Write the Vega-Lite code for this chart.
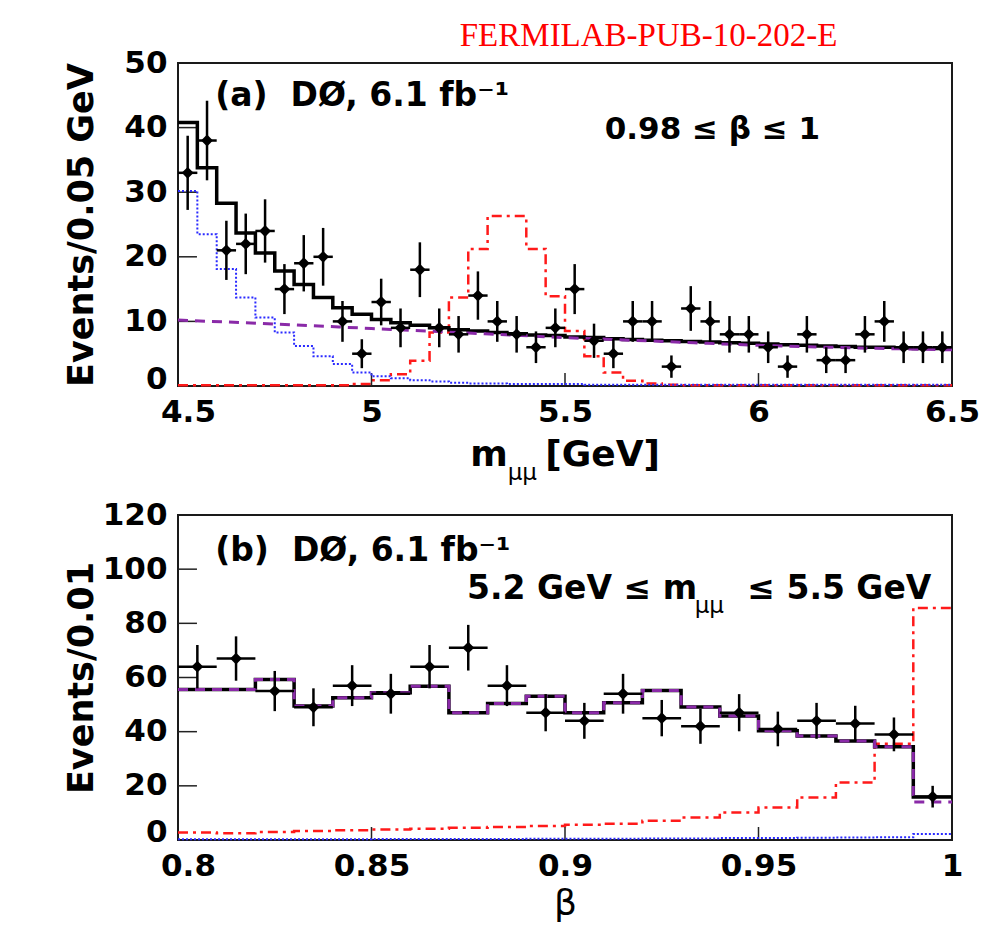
{
  "$schema": "https://vega.github.io/schema/vega-lite/v6.json",
  "background": "white",
  "padding": {"left": 62, "top": 19, "right": 5, "bottom": 5},
  "spacing": 129,
  "bounds": "flush",
  "config": {
    "view": {"stroke": "#1a1a1a", "strokeWidth": 2},
    "axis": {"grid": false, "domain": false, "ticks": false, "labelFont": "DejaVu Sans", "labelFontWeight": "bold", "labelFontSize": 31, "labelColor": "#000000", "titleFont": "DejaVu Sans", "titleFontWeight": "bold", "titleFontSize": 35, "titleColor": "#000000", "labelFlush": false, "labelOverlap": false},
    "text": {"font": "DejaVu Sans"}
  },
  "datasets": {
    "one": [{"k": 1}],
    "ta_y": [{"v": 10}, {"v": 20}, {"v": 30}, {"v": 40}],
    "ta_x": [{"v": 5}, {"v": 5.5}, {"v": 6}],
    "tb_y": [{"v": 20}, {"v": 40}, {"v": 60}, {"v": 80}, {"v": 100}],
    "tb_x": [{"v": 0.85}, {"v": 0.9}, {"v": 0.95}],
    "ha": [
      {"m": 4.50, "tot": 40.8, "pk": 30.2, "sig": 0.1},
      {"m": 4.55, "tot": 33.8, "pk": 23.5, "sig": 0.1},
      {"m": 4.60, "tot": 28.3, "pk": 18.1, "sig": 0.1},
      {"m": 4.65, "tot": 23.7, "pk": 13.7, "sig": 0.1},
      {"m": 4.70, "tot": 20.6, "pk": 10.6, "sig": 0.1},
      {"m": 4.75, "tot": 17.8, "pk": 8.3, "sig": 0.1},
      {"m": 4.80, "tot": 15.7, "pk": 6.2, "sig": 0.1},
      {"m": 4.85, "tot": 13.7, "pk": 4.6, "sig": 0.1},
      {"m": 4.90, "tot": 12.1, "pk": 3.4, "sig": 0.1},
      {"m": 4.95, "tot": 11.1, "pk": 2.1, "sig": 0.3},
      {"m": 5.00, "tot": 10.3, "pk": 1.5, "sig": 0.9},
      {"m": 5.05, "tot": 9.8, "pk": 1.2, "sig": 1.8},
      {"m": 5.10, "tot": 9.4, "pk": 0.9, "sig": 3.9},
      {"m": 5.15, "tot": 9.0, "pk": 0.7, "sig": 8.3},
      {"m": 5.20, "tot": 8.7, "pk": 0.5, "sig": 13.7},
      {"m": 5.25, "tot": 8.5, "pk": 0.4, "sig": 21.2},
      {"m": 5.30, "tot": 8.3, "pk": 0.4, "sig": 26.3},
      {"m": 5.35, "tot": 8.1, "pk": 0.3, "sig": 26.3},
      {"m": 5.40, "tot": 7.9, "pk": 0.3, "sig": 21.2},
      {"m": 5.45, "tot": 7.8, "pk": 0.3, "sig": 13.9},
      {"m": 5.50, "tot": 7.6, "pk": 0.3, "sig": 8.5},
      {"m": 5.55, "tot": 7.5, "pk": 0.2, "sig": 4.6},
      {"m": 5.60, "tot": 7.3, "pk": 0.2, "sig": 2.1},
      {"m": 5.65, "tot": 7.2, "pk": 0.2, "sig": 0.8},
      {"m": 5.70, "tot": 7.1, "pk": 0.2, "sig": 0.4},
      {"m": 5.75, "tot": 7.0, "pk": 0.2, "sig": 0.2},
      {"m": 5.80, "tot": 6.9, "pk": 0.2, "sig": 0.1},
      {"m": 5.85, "tot": 6.8, "pk": 0.2, "sig": 0.1},
      {"m": 5.90, "tot": 6.7, "pk": 0.2, "sig": 0.1},
      {"m": 5.95, "tot": 6.6, "pk": 0.2, "sig": 0.1},
      {"m": 6.00, "tot": 6.5, "pk": 0.2, "sig": 0.1},
      {"m": 6.05, "tot": 6.4, "pk": 0.2, "sig": 0.1},
      {"m": 6.10, "tot": 6.3, "pk": 0.2, "sig": 0.1},
      {"m": 6.15, "tot": 6.2, "pk": 0.2, "sig": 0.1},
      {"m": 6.20, "tot": 6.1, "pk": 0.2, "sig": 0.1},
      {"m": 6.25, "tot": 6.0, "pk": 0.2, "sig": 0.1},
      {"m": 6.30, "tot": 6.0, "pk": 0.2, "sig": 0.1},
      {"m": 6.35, "tot": 5.9, "pk": 0.2, "sig": 0.1},
      {"m": 6.40, "tot": 5.8, "pk": 0.2, "sig": 0.1},
      {"m": 6.45, "tot": 5.8, "pk": 0.2, "sig": 0.1},
      {"m": 6.50, "tot": 5.8, "pk": 0.2, "sig": 0.1}
    ],
    "hacomb": [
      {"m": 4.50, "v": 10.2}, {"m": 4.75, "v": 9.6}, {"m": 5.00, "v": 8.9},
      {"m": 5.25, "v": 8.2}, {"m": 5.50, "v": 7.5}, {"m": 5.75, "v": 6.9},
      {"m": 6.00, "v": 6.3}, {"m": 6.25, "v": 5.9}, {"m": 6.50, "v": 5.6}
    ],
    "pa": [
      {"m": 4.525, "m0": 4.50, "m1": 4.55, "n": 33, "lo": 27.26, "hi": 38.74},
      {"m": 4.575, "m0": 4.55, "m1": 4.60, "n": 38, "lo": 31.84, "hi": 44.16},
      {"m": 4.625, "m0": 4.60, "m1": 4.65, "n": 21, "lo": 16.42, "hi": 25.58},
      {"m": 4.675, "m0": 4.65, "m1": 4.70, "n": 22, "lo": 17.31, "hi": 26.69},
      {"m": 4.725, "m0": 4.70, "m1": 4.75, "n": 24, "lo": 19.10, "hi": 28.90},
      {"m": 4.775, "m0": 4.75, "m1": 4.80, "n": 15, "lo": 11.13, "hi": 18.87},
      {"m": 4.825, "m0": 4.80, "m1": 4.85, "n": 19, "lo": 14.64, "hi": 23.36},
      {"m": 4.875, "m0": 4.85, "m1": 4.90, "n": 20, "lo": 15.53, "hi": 24.47},
      {"m": 4.925, "m0": 4.90, "m1": 4.95, "n": 10, "lo": 6.84, "hi": 13.16},
      {"m": 4.975, "m0": 4.95, "m1": 5.00, "n": 5, "lo": 2.76, "hi": 7.24},
      {"m": 5.025, "m0": 5.00, "m1": 5.05, "n": 13, "lo": 9.39, "hi": 16.61},
      {"m": 5.075, "m0": 5.05, "m1": 5.10, "n": 9, "lo": 6.00, "hi": 12.00},
      {"m": 5.125, "m0": 5.10, "m1": 5.15, "n": 18, "lo": 13.76, "hi": 22.24},
      {"m": 5.175, "m0": 5.15, "m1": 5.20, "n": 9, "lo": 6.00, "hi": 12.00},
      {"m": 5.225, "m0": 5.20, "m1": 5.25, "n": 8, "lo": 5.17, "hi": 10.83},
      {"m": 5.275, "m0": 5.25, "m1": 5.30, "n": 14, "lo": 10.26, "hi": 17.74},
      {"m": 5.325, "m0": 5.30, "m1": 5.35, "n": 10, "lo": 6.84, "hi": 13.16},
      {"m": 5.375, "m0": 5.35, "m1": 5.40, "n": 8, "lo": 5.17, "hi": 10.83},
      {"m": 5.425, "m0": 5.40, "m1": 5.45, "n": 6, "lo": 3.55, "hi": 8.45},
      {"m": 5.475, "m0": 5.45, "m1": 5.50, "n": 9, "lo": 6.00, "hi": 12.00},
      {"m": 5.525, "m0": 5.50, "m1": 5.55, "n": 15, "lo": 11.13, "hi": 18.87},
      {"m": 5.575, "m0": 5.55, "m1": 5.60, "n": 7, "lo": 4.35, "hi": 9.65},
      {"m": 5.625, "m0": 5.60, "m1": 5.65, "n": 5, "lo": 2.76, "hi": 7.24},
      {"m": 5.675, "m0": 5.65, "m1": 5.70, "n": 10, "lo": 6.84, "hi": 13.16},
      {"m": 5.725, "m0": 5.70, "m1": 5.75, "n": 10, "lo": 6.84, "hi": 13.16},
      {"m": 5.775, "m0": 5.75, "m1": 5.80, "n": 3, "lo": 1.27, "hi": 4.73},
      {"m": 5.825, "m0": 5.80, "m1": 5.85, "n": 12, "lo": 8.54, "hi": 15.46},
      {"m": 5.875, "m0": 5.85, "m1": 5.90, "n": 10, "lo": 6.84, "hi": 13.16},
      {"m": 5.925, "m0": 5.90, "m1": 5.95, "n": 8, "lo": 5.17, "hi": 10.83},
      {"m": 5.975, "m0": 5.95, "m1": 6.00, "n": 8, "lo": 5.17, "hi": 10.83},
      {"m": 6.025, "m0": 6.00, "m1": 6.05, "n": 6, "lo": 3.55, "hi": 8.45},
      {"m": 6.075, "m0": 6.05, "m1": 6.10, "n": 3, "lo": 1.27, "hi": 4.73},
      {"m": 6.125, "m0": 6.10, "m1": 6.15, "n": 8, "lo": 5.17, "hi": 10.83},
      {"m": 6.175, "m0": 6.15, "m1": 6.20, "n": 4, "lo": 2.00, "hi": 6.00},
      {"m": 6.225, "m0": 6.20, "m1": 6.25, "n": 4, "lo": 2.00, "hi": 6.00},
      {"m": 6.275, "m0": 6.25, "m1": 6.30, "n": 8, "lo": 5.17, "hi": 10.83},
      {"m": 6.325, "m0": 6.30, "m1": 6.35, "n": 10, "lo": 6.84, "hi": 13.16},
      {"m": 6.375, "m0": 6.35, "m1": 6.40, "n": 6, "lo": 3.55, "hi": 8.45},
      {"m": 6.425, "m0": 6.40, "m1": 6.45, "n": 6, "lo": 3.55, "hi": 8.45},
      {"m": 6.475, "m0": 6.45, "m1": 6.50, "n": 6, "lo": 3.55, "hi": 8.45}
    ],
    "hb": [
      {"b": 0.80, "tot": 55.6, "fit": 55.6, "sig": 2.8, "pk": 0.3},
      {"b": 0.81, "tot": 55.6, "fit": 55.6, "sig": 2.5, "pk": 0.3},
      {"b": 0.82, "tot": 59.3, "fit": 59.3, "sig": 3.0, "pk": 0.3},
      {"b": 0.83, "tot": 49.5, "fit": 49.5, "sig": 3.3, "pk": 0.3},
      {"b": 0.84, "tot": 52.5, "fit": 52.5, "sig": 3.6, "pk": 0.3},
      {"b": 0.85, "tot": 54.4, "fit": 54.4, "sig": 3.9, "pk": 0.4},
      {"b": 0.86, "tot": 56.8, "fit": 56.8, "sig": 4.2, "pk": 0.4},
      {"b": 0.87, "tot": 47.0, "fit": 47.0, "sig": 4.5, "pk": 0.4},
      {"b": 0.88, "tot": 50.4, "fit": 50.4, "sig": 4.8, "pk": 0.4},
      {"b": 0.89, "tot": 53.1, "fit": 53.1, "sig": 5.2, "pk": 0.5},
      {"b": 0.90, "tot": 47.0, "fit": 47.0, "sig": 5.6, "pk": 0.5},
      {"b": 0.91, "tot": 50.7, "fit": 50.7, "sig": 6.0, "pk": 0.5},
      {"b": 0.92, "tot": 55.2, "fit": 55.2, "sig": 7.1, "pk": 0.6},
      {"b": 0.93, "tot": 49.1, "fit": 49.1, "sig": 8.3, "pk": 0.6},
      {"b": 0.94, "tot": 45.8, "fit": 45.8, "sig": 10.2, "pk": 0.7},
      {"b": 0.95, "tot": 40.3, "fit": 40.3, "sig": 12.0, "pk": 0.7},
      {"b": 0.96, "tot": 38.4, "fit": 38.4, "sig": 15.7, "pk": 0.8},
      {"b": 0.97, "tot": 36.6, "fit": 36.6, "sig": 21.2, "pk": 0.9},
      {"b": 0.98, "tot": 34.4, "fit": 34.4, "sig": 35.5, "pk": 1.0},
      {"b": 0.99, "tot": 15.9, "fit": 14.0, "sig": 85.7, "pk": 2.2},
      {"b": 1.00, "tot": 15.9, "fit": 14.0, "sig": 85.7, "pk": 2.2}
    ],
    "pb": [
      {"b": 0.805, "b0": 0.80, "b1": 0.81, "n": 64, "lo": 56.00, "hi": 72.00},
      {"b": 0.815, "b0": 0.81, "b1": 0.82, "n": 67, "lo": 58.81, "hi": 75.19},
      {"b": 0.825, "b0": 0.82, "b1": 0.83, "n": 55, "lo": 47.58, "hi": 62.42},
      {"b": 0.835, "b0": 0.83, "b1": 0.84, "n": 49, "lo": 42.00, "hi": 56.00},
      {"b": 0.845, "b0": 0.84, "b1": 0.85, "n": 57, "lo": 49.45, "hi": 64.55},
      {"b": 0.855, "b0": 0.85, "b1": 0.86, "n": 54, "lo": 46.65, "hi": 61.35},
      {"b": 0.865, "b0": 0.86, "b1": 0.87, "n": 64, "lo": 56.00, "hi": 72.00},
      {"b": 0.875, "b0": 0.87, "b1": 0.88, "n": 71, "lo": 62.57, "hi": 79.43},
      {"b": 0.885, "b0": 0.88, "b1": 0.89, "n": 57, "lo": 49.45, "hi": 64.55},
      {"b": 0.895, "b0": 0.89, "b1": 0.90, "n": 47, "lo": 40.14, "hi": 53.86},
      {"b": 0.905, "b0": 0.90, "b1": 0.91, "n": 44, "lo": 37.37, "hi": 50.63},
      {"b": 0.915, "b0": 0.91, "b1": 0.92, "n": 54, "lo": 46.65, "hi": 61.35},
      {"b": 0.925, "b0": 0.92, "b1": 0.93, "n": 45, "lo": 38.29, "hi": 51.71},
      {"b": 0.935, "b0": 0.93, "b1": 0.94, "n": 42, "lo": 35.52, "hi": 48.48},
      {"b": 0.945, "b0": 0.94, "b1": 0.95, "n": 47, "lo": 40.14, "hi": 53.86},
      {"b": 0.955, "b0": 0.95, "b1": 0.96, "n": 41, "lo": 34.60, "hi": 47.40},
      {"b": 0.965, "b0": 0.96, "b1": 0.97, "n": 44, "lo": 37.37, "hi": 50.63},
      {"b": 0.975, "b0": 0.97, "b1": 0.98, "n": 43, "lo": 36.44, "hi": 49.56},
      {"b": 0.985, "b0": 0.98, "b1": 0.99, "n": 39, "lo": 32.76, "hi": 45.24},
      {"b": 0.995, "b0": 0.99, "b1": 1.00, "n": 16, "lo": 12.00, "hi": 20.00}
    ]
  },
  "vconcat": [
    {
      "width": 774,
      "height": 323,
      "layer": [
        {
          "data": {"name": "ha"},
          "mark": {"type": "line", "interpolate": "step-after", "color": "#ff1a1a", "strokeWidth": 2.5, "strokeDash": [10, 5, 3, 5]},
          "encoding": {
            "x": {"field": "m", "type": "quantitative", "title": null, "scale": {"domain": [4.5, 6.5], "nice": false, "zero": false},
                  "axis": {"values": [4.5, 5, 5.5, 6, 6.5], "format": "~g", "labelPadding": 11,
                           "labelOffset": {"condition": {"test": "datum.value < 4.6", "value": 10}, "value": 0}}},
            "y": {"field": "sig", "type": "quantitative", "title": "Events/0.05 GeV", "scale": {"domain": [0, 50], "nice": false},
                  "axis": {"values": [0, 10, 20, 30, 40, 50], "labelPadding": 11, "titleX": -86, "titleBaseline": "alphabetic",
                           "labelOffset": {"condition": {"test": "datum.value === 0", "value": -7}, "value": 0}}}
          }
        },
        {
          "data": {"name": "ta_y"},
          "mark": {"type": "rule", "color": "#222222", "strokeWidth": 1.5},
          "encoding": {
            "y": {"field": "v", "type": "quantitative", "title": "Events/0.05 GeV"},
            "x": {"datum": 4.5, "type": "quantitative"},
            "x2": {"datum": 4.549}
          }
        },
        {
          "data": {"name": "ta_x"},
          "mark": {"type": "rule", "color": "#222222", "strokeWidth": 1.5},
          "encoding": {
            "x": {"field": "v", "type": "quantitative", "title": null},
            "y": {"datum": 0, "type": "quantitative"},
            "y2": {"datum": 2.0}
          }
        },
        {
          "data": {"name": "ha"},
          "mark": {"type": "line", "interpolate": "step-after", "color": "#2a2aff", "strokeWidth": 2, "strokeDash": [2, 2]},
          "encoding": {
            "x": {"field": "m", "type": "quantitative", "title": null},
            "y": {"field": "pk", "type": "quantitative", "title": "Events/0.05 GeV"}
          }
        },
        {
          "data": {"name": "ha"},
          "mark": {"type": "line", "interpolate": "step-after", "color": "#000000", "strokeWidth": 3.5},
          "encoding": {
            "x": {"field": "m", "type": "quantitative", "title": null},
            "y": {"field": "tot", "type": "quantitative", "title": "Events/0.05 GeV"}
          }
        },
        {
          "data": {"name": "hacomb"},
          "mark": {"type": "line", "interpolate": "monotone", "color": "#8a2aa8", "strokeWidth": 3, "strokeDash": [10, 7]},
          "encoding": {
            "x": {"field": "m", "type": "quantitative", "title": null},
            "y": {"field": "v", "type": "quantitative", "title": "Events/0.05 GeV"}
          }
        },
        {
          "data": {"name": "pa"},
          "mark": {"type": "rule", "color": "#000000", "strokeWidth": 2.5},
          "encoding": {
            "x": {"field": "m", "type": "quantitative", "title": null},
            "y": {"field": "lo", "type": "quantitative", "title": "Events/0.05 GeV"},
            "y2": {"field": "hi"}
          }
        },
        {
          "data": {"name": "pa"},
          "mark": {"type": "rule", "color": "#000000", "strokeWidth": 2.5},
          "encoding": {
            "x": {"field": "m0", "type": "quantitative", "title": null},
            "x2": {"field": "m1"},
            "y": {"field": "n", "type": "quantitative", "title": "Events/0.05 GeV"}
          }
        },
        {
          "data": {"name": "pa"},
          "mark": {"type": "point", "shape": "diamond", "filled": true, "color": "#000000", "size": 140, "opacity": 1},
          "encoding": {
            "x": {"field": "m", "type": "quantitative", "title": null},
            "y": {"field": "n", "type": "quantitative", "title": "Events/0.05 GeV"}
          }
        },
        {
          "data": {"name": "one"},
          "mark": {"type": "text", "text": "(a)\u00a0 D\u00d8, 6.1 fb\u207b\u00b9", "align": "left", "baseline": "alphabetic", "fontSize": 33, "fontWeight": "bold", "color": "#000000"},
          "encoding": {"x": {"datum": 4.596, "type": "quantitative"}, "y": {"datum": 43.3, "type": "quantitative"}}
        },
        {
          "data": {"name": "one"},
          "mark": {"type": "text", "text": "0.98 \u2264 \u03b2 \u2264 1", "align": "center", "baseline": "alphabetic", "fontSize": 31, "fontWeight": "bold", "color": "#000000"},
          "encoding": {"x": {"datum": 5.881, "type": "quantitative"}, "y": {"datum": 38.2, "type": "quantitative"}}
        },
        {
          "data": {"name": "one"},
          "mark": {"type": "text", "text": "FERMILAB-PUB-10-202-E", "align": "center", "baseline": "alphabetic", "font": "Liberation Serif", "fontSize": 33, "fontWeight": "normal", "color": "#ff0000"},
          "encoding": {"x": {"datum": 5.716, "type": "quantitative"}, "y": {"datum": 52.6, "type": "quantitative"}}
        },
        {
          "data": {"name": "one"},
          "mark": {"type": "text", "text": "m", "align": "left", "baseline": "alphabetic", "fontSize": 36, "fontWeight": "bold", "color": "#000000"},
          "encoding": {"x": {"datum": 5.255, "type": "quantitative"}, "y": {"datum": -12.4, "type": "quantitative"}}
        },
        {
          "data": {"name": "one"},
          "mark": {"type": "text", "text": "\u03bc\u03bc", "align": "left", "baseline": "alphabetic", "fontSize": 23, "fontWeight": "normal", "color": "#000000"},
          "encoding": {"x": {"datum": 5.352, "type": "quantitative"}, "y": {"datum": -14.6, "type": "quantitative"}}
        },
        {
          "data": {"name": "one"},
          "mark": {"type": "text", "text": "[GeV]", "align": "left", "baseline": "alphabetic", "fontSize": 36, "fontWeight": "bold", "color": "#000000"},
          "encoding": {"x": {"datum": 5.449, "type": "quantitative"}, "y": {"datum": -12.4, "type": "quantitative"}}
        }
      ]
    },
    {
      "width": 774,
      "height": 325,
      "layer": [
        {
          "data": {"name": "hb"},
          "mark": {"type": "line", "interpolate": "step-after", "color": "#ff1a1a", "strokeWidth": 2.5, "strokeDash": [10, 5, 3, 5]},
          "encoding": {
            "x": {"field": "b", "type": "quantitative", "title": "\u03b2", "scale": {"domain": [0.8, 1.0], "nice": false, "zero": false},
                  "axis": {"values": [0.8, 0.85, 0.9, 0.95, 1.0], "format": "~g", "labelPadding": 11, "titleY": 74, "titleBaseline": "alphabetic", "titleFontWeight": "normal", "titleFontSize": 36,
                           "labelOffset": {"condition": {"test": "datum.value < 0.81", "value": 10}, "value": 0}}},
            "y": {"field": "sig", "type": "quantitative", "title": "Events/0.01", "scale": {"domain": [0, 120], "nice": false},
                  "axis": {"values": [0, 20, 40, 60, 80, 100, 120], "labelPadding": 11, "titleX": -86, "titleBaseline": "alphabetic",
                           "labelOffset": {"condition": {"test": "datum.value === 0", "value": -8}, "value": 0}}}
          }
        },
        {
          "data": {"name": "tb_y"},
          "mark": {"type": "rule", "color": "#222222", "strokeWidth": 1.5},
          "encoding": {
            "y": {"field": "v", "type": "quantitative", "title": "Events/0.01"},
            "x": {"datum": 0.8, "type": "quantitative"},
            "x2": {"datum": 0.8049}
          }
        },
        {
          "data": {"name": "tb_x"},
          "mark": {"type": "rule", "color": "#222222", "strokeWidth": 1.5},
          "encoding": {
            "x": {"field": "v", "type": "quantitative", "title": "\u03b2"},
            "y": {"datum": 0, "type": "quantitative"},
            "y2": {"datum": 4.8}
          }
        },
        {
          "data": {"name": "hb"},
          "mark": {"type": "line", "interpolate": "step-after", "color": "#2a2aff", "strokeWidth": 2, "strokeDash": [2, 2]},
          "encoding": {
            "x": {"field": "b", "type": "quantitative", "title": "\u03b2"},
            "y": {"field": "pk", "type": "quantitative", "title": "Events/0.01"}
          }
        },
        {
          "data": {"name": "hb"},
          "mark": {"type": "line", "interpolate": "step-after", "color": "#000000", "strokeWidth": 3.5},
          "encoding": {
            "x": {"field": "b", "type": "quantitative", "title": "\u03b2"},
            "y": {"field": "tot", "type": "quantitative", "title": "Events/0.01"}
          }
        },
        {
          "data": {"name": "hb"},
          "mark": {"type": "line", "interpolate": "step-after", "color": "#8a2aa8", "strokeWidth": 3, "strokeDash": [10, 7]},
          "encoding": {
            "x": {"field": "b", "type": "quantitative", "title": "\u03b2"},
            "y": {"field": "fit", "type": "quantitative", "title": "Events/0.01"}
          }
        },
        {
          "data": {"name": "pb"},
          "mark": {"type": "rule", "color": "#000000", "strokeWidth": 2.5},
          "encoding": {
            "x": {"field": "b", "type": "quantitative", "title": "\u03b2"},
            "y": {"field": "lo", "type": "quantitative", "title": "Events/0.01"},
            "y2": {"field": "hi"}
          }
        },
        {
          "data": {"name": "pb"},
          "mark": {"type": "rule", "color": "#000000", "strokeWidth": 2.5},
          "encoding": {
            "x": {"field": "b0", "type": "quantitative", "title": "\u03b2"},
            "x2": {"field": "b1"},
            "y": {"field": "n", "type": "quantitative", "title": "Events/0.01"}
          }
        },
        {
          "data": {"name": "pb"},
          "mark": {"type": "point", "shape": "diamond", "filled": true, "color": "#000000", "size": 140, "opacity": 1},
          "encoding": {
            "x": {"field": "b", "type": "quantitative", "title": "\u03b2"},
            "y": {"field": "n", "type": "quantitative", "title": "Events/0.01"}
          }
        },
        {
          "data": {"name": "one"},
          "mark": {"type": "text", "text": "(b)\u00a0 D\u00d8, 6.1 fb\u207b\u00b9", "align": "left", "baseline": "alphabetic", "fontSize": 33, "fontWeight": "bold", "color": "#000000"},
          "encoding": {"x": {"datum": 0.8096, "type": "quantitative"}, "y": {"datum": 102.9, "type": "quantitative"}}
        },
        {
          "data": {"name": "one"},
          "mark": {"type": "text", "text": "5.2 GeV \u2264 m", "align": "left", "baseline": "alphabetic", "fontSize": 33, "fontWeight": "bold", "color": "#000000"},
          "encoding": {"x": {"datum": 0.8747, "type": "quantitative"}, "y": {"datum": 88.9, "type": "quantitative"}}
        },
        {
          "data": {"name": "one"},
          "mark": {"type": "text", "text": "\u03bc\u03bc", "align": "left", "baseline": "alphabetic", "fontSize": 23, "fontWeight": "normal", "color": "#000000"},
          "encoding": {"x": {"datum": 0.9335, "type": "quantitative"}, "y": {"datum": 83.7, "type": "quantitative"}}
        },
        {
          "data": {"name": "one"},
          "mark": {"type": "text", "text": "\u2264 5.5 GeV", "align": "left", "baseline": "alphabetic", "fontSize": 33, "fontWeight": "bold", "color": "#000000"},
          "encoding": {"x": {"datum": 0.9471, "type": "quantitative"}, "y": {"datum": 88.9, "type": "quantitative"}}
        }
      ]
    }
  ]
}
